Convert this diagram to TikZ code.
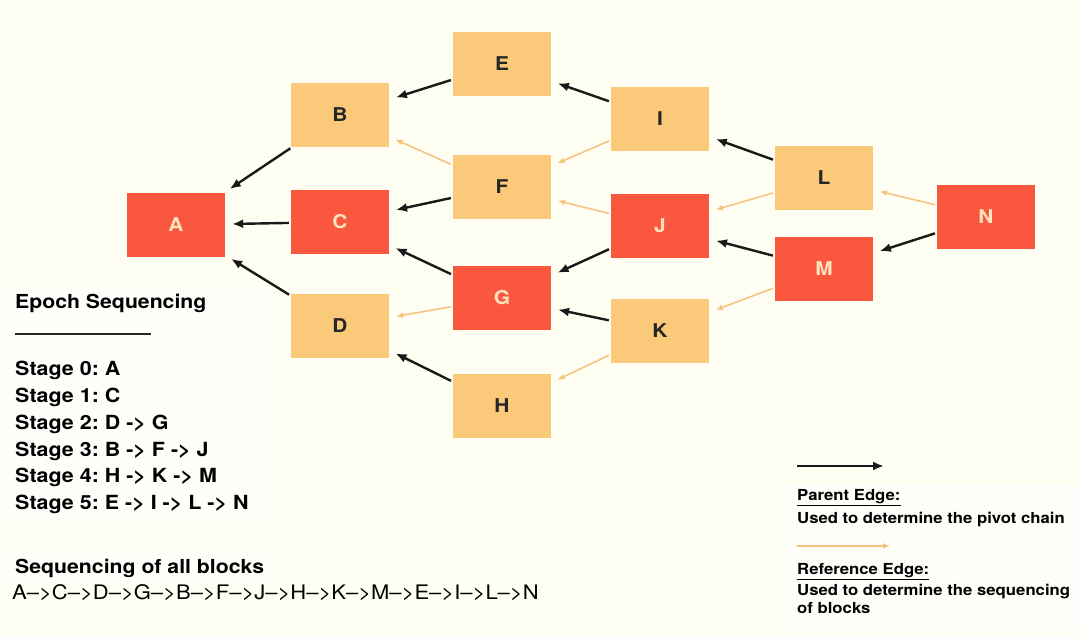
\documentclass[tikz,border=0pt]{standalone}
\usepackage{xcolor}
\usepackage{fontspec}
\setmainfont{TeX Gyre Heros}[FakeStretch=1.1]
\usepackage{tikz}
\usetikzlibrary{arrows.meta, positioning, calc}

\definecolor{bgcream}{RGB}{255,254,243}
\definecolor{lightblock}{RGB}{251,201,122}
\definecolor{pivotblock}{RGB}{249,87,62}
\definecolor{refedge}{RGB}{247,196,128}
\definecolor{pivottext}{RGB}{255,228,190}
\frenchspacing

\tikzset{
    block/.style={rectangle, minimum width=98pt, minimum height=64pt, inner sep=0pt, font=\fontsize{19}{22}\selectfont\bfseries},
    plainblock/.style={block, fill=lightblock, text=black!85},
    redblock/.style={block, fill=pivotblock, text=pivottext},
    parent/.style={-{Latex[length=11pt,width=9pt]}, line width=2.4pt, black!90, shorten >=7pt, shorten <=2pt},
    reference/.style={-{Latex[length=7pt,width=6pt]}, line width=1.6pt, refedge, shorten >=7pt, shorten <=2pt},
    label/.style={inner sep=0pt, anchor=west, font=\fontsize{19.3}{21}\selectfont\bfseries},
    legendtext/.style={inner sep=0pt, anchor=west, font=\fontsize{15.2}{18}\selectfont\bfseries}
}

\begin{document}
\begin{tikzpicture}[x=1pt, y=-1pt]
        \useasboundingbox[fill=bgcream] (0,0) rectangle (1080,636);
        % white panels behind the texts
        \fill[bgcream!45!white] (0,287) rectangle (272,522);
        \fill[bgcream!45!white] (0,553) rectangle (272,582);
        \fill[bgcream!45!white] (786,484) rectangle (1080,630);

        % blocks
        \node (A) [redblock] at (176,225) {A};
        \node (B) [plainblock] at (340,115) {B};
        \node (C) [redblock] at (340,222) {C};
        \node (D) [plainblock] at (340,326) {D};
        \node (E) [plainblock] at (502,64) {E};
        \node (F) [plainblock] at (502,187) {F};
        \node (G) [redblock] at (502,298) {G};
        \node (H) [plainblock] at (502,406) {H};
        \node (I) [plainblock] at (660,119) {I};
        \node (J) [redblock] at (660,226) {J};
        \node (K) [plainblock] at (660,331) {K};
        \node (L) [plainblock] at (824,178) {L};
        \node (M) [redblock] at (824,269) {M};
        \node (N) [redblock] at (986,217) {N};

        % parent edges
        \draw[parent] (B) -- (A);
        \draw[parent] (C) -- (A);
        \draw[parent] (D) -- (A);
        \draw[parent] (E) -- (B);
        \draw[parent] (F) -- (C);
        \draw[parent] (G) -- (C);
        \draw[parent] (H) -- (D);
        \draw[parent] (I) -- (E);
        \draw[parent] (J) -- (G);
        \draw[parent] (K) -- (G);
        \draw[parent] (L) -- (I);
        \draw[parent] (M) -- (J);
        \draw[parent] (N) -- (M);

        % reference edges
        \draw[reference] (F) -- (B);
        \draw[reference] (G) -- (D);
        \draw[reference] (I) -- (F);
        \draw[reference] (J) -- (F);
        \draw[reference] (K) -- (H);
        \draw[reference] (L) -- (J);
        \draw[reference] (M) -- (K);
        \draw[reference] (N) -- (L);

        % epoch sequencing
        \node (epoch) [label] at (15,303) {Epoch Sequencing};
        \draw[line width=2pt, black!85] (15,334) -- (151,334);
        \node (stages) [label, anchor=north west, align=left, font=\fontsize{19.5}{26.8}\selectfont\bfseries] at (15,361) {Stage 0: A\\ Stage 1: C\\ Stage 2: D -> G\\ Stage 3: B -> F -> J\\ Stage 4: H -> K -> M\\ Stage 5: E -> I -> L -> N};
        \node (allseq) [label] at (15,568) {Sequencing of all blocks};
        \node (order) [label, font=\fontsize{20}{21}\selectfont] at (12,593) {A–>C–>D–>G–>B–>F–>J–>H–>K–>M–>E–>I–>L–>N};

        % legend
        \coordinate (pstart) at (797,466);
        \coordinate (pend) at (884,466);
        \draw[parent, shorten >=0pt, shorten <=0pt] (pstart) -- (pend);
        \node (ptitle) [legendtext] at (797,498) {\underline{Parent Edge:}};
        \node (pdesc) [legendtext] at (797,519) {Used to determine the pivot chain};
        \coordinate (rstart) at (797,546);
        \coordinate (rend) at (890,546);
        \draw[reference, shorten >=0pt, shorten <=0pt] (rstart) -- (rend);
        \node (rtitle) [legendtext] at (797,572) {\underline{Reference Edge:}};
        \node (rdesc) [legendtext, anchor=north west, align=left] at (797,584) {Used to determine the sequencing\\ of blocks};
    \end{tikzpicture}
\end{document}
